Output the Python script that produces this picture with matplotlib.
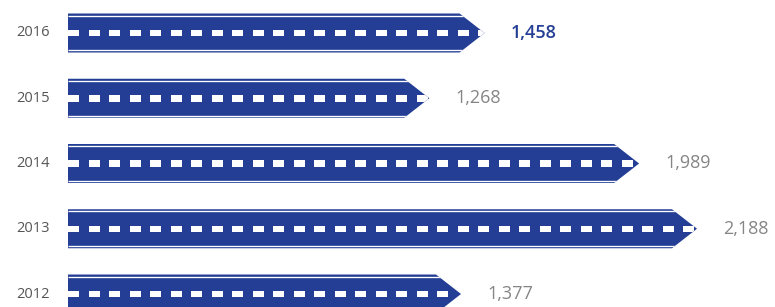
import numpy as np
import matplotlib.pyplot as plt
from matplotlib.patches import Polygon

years = ["2016", "2015", "2014", "2013", "2012"]
values = [1458, 1268, 1989, 2188, 1377]
highlight = "2016"

BLUE = "#243e96"
YEAR_GREY = "#555555"
VAL_GREY = "#858585"

plt.rcParams["font.family"] = ["Open Sans", "DejaVu Sans"]

# pixel -> data mapping worked out from the picture
px_per_unit_x = 0.291
x_at_px0 = -60.3 / px_per_unit_x
px_per_row = 65.25
y_top = -33 / px_per_row

bar_start = (68 - 60.3) / px_per_unit_x
arrow_len = 25 / px_per_unit_x
half_h = 19.5 / px_per_row
stripe_in = 2.2 / px_per_row
dash_h = 6.5 / px_per_row
dash_len = 11 / px_per_unit_x
dash_period = 20.5 / px_per_unit_x

fig = plt.figure(figsize=(7.75, 3.07), dpi=100)
ax = fig.add_axes([0, 0, 1, 1])
ax.set_xlim(x_at_px0, x_at_px0 + 775 / px_per_unit_x)
ax.set_ylim(y_top + 307 / px_per_row, y_top)
ax.axis("off")

for i, (yr, v) in enumerate(zip(years, values)):
    body_end = v - arrow_len
    shape = Polygon([(bar_start, i - half_h), (body_end, i - half_h), (v, i),
                     (body_end, i + half_h), (bar_start, i + half_h)],
                    closed=True, facecolor=BLUE, edgecolor="none")
    ax.add_patch(shape)

    # thin white lines near the top and bottom edges
    for yy in (i - half_h + stripe_in, i + half_h - stripe_in):
        ln, = ax.plot([bar_start, v], [yy, yy], color="white", lw=0.95,
                      solid_capstyle="butt")
        ln.set_clip_path(shape)

    # white dashed centre line
    starts = np.arange(bar_start, v - 4 / px_per_unit_x, dash_period)
    dashes = ax.barh([i] * len(starts), [dash_len] * len(starts), left=starts,
                     height=dash_h, color="white", linewidth=0)
    for d in dashes:
        d.set_clip_path(shape)

    ax.annotate(yr, xy=(bar_start, i), xytext=(-13.2, 0),
                textcoords="offset points", ha="right", va="center",
                fontsize=10.5, color=YEAR_GREY)

    if yr == highlight:
        ax.annotate(f"{v:,}", xy=(v, i), xytext=(19, 0),
                    textcoords="offset points", ha="left", va="center",
                    fontsize=13, color=BLUE, fontweight="semibold")
    else:
        ax.annotate(f"{v:,}", xy=(v, i), xytext=(19, 0),
                    textcoords="offset points", ha="left", va="center",
                    fontsize=13, color=VAL_GREY)

fig.savefig("out.png", dpi=100)
